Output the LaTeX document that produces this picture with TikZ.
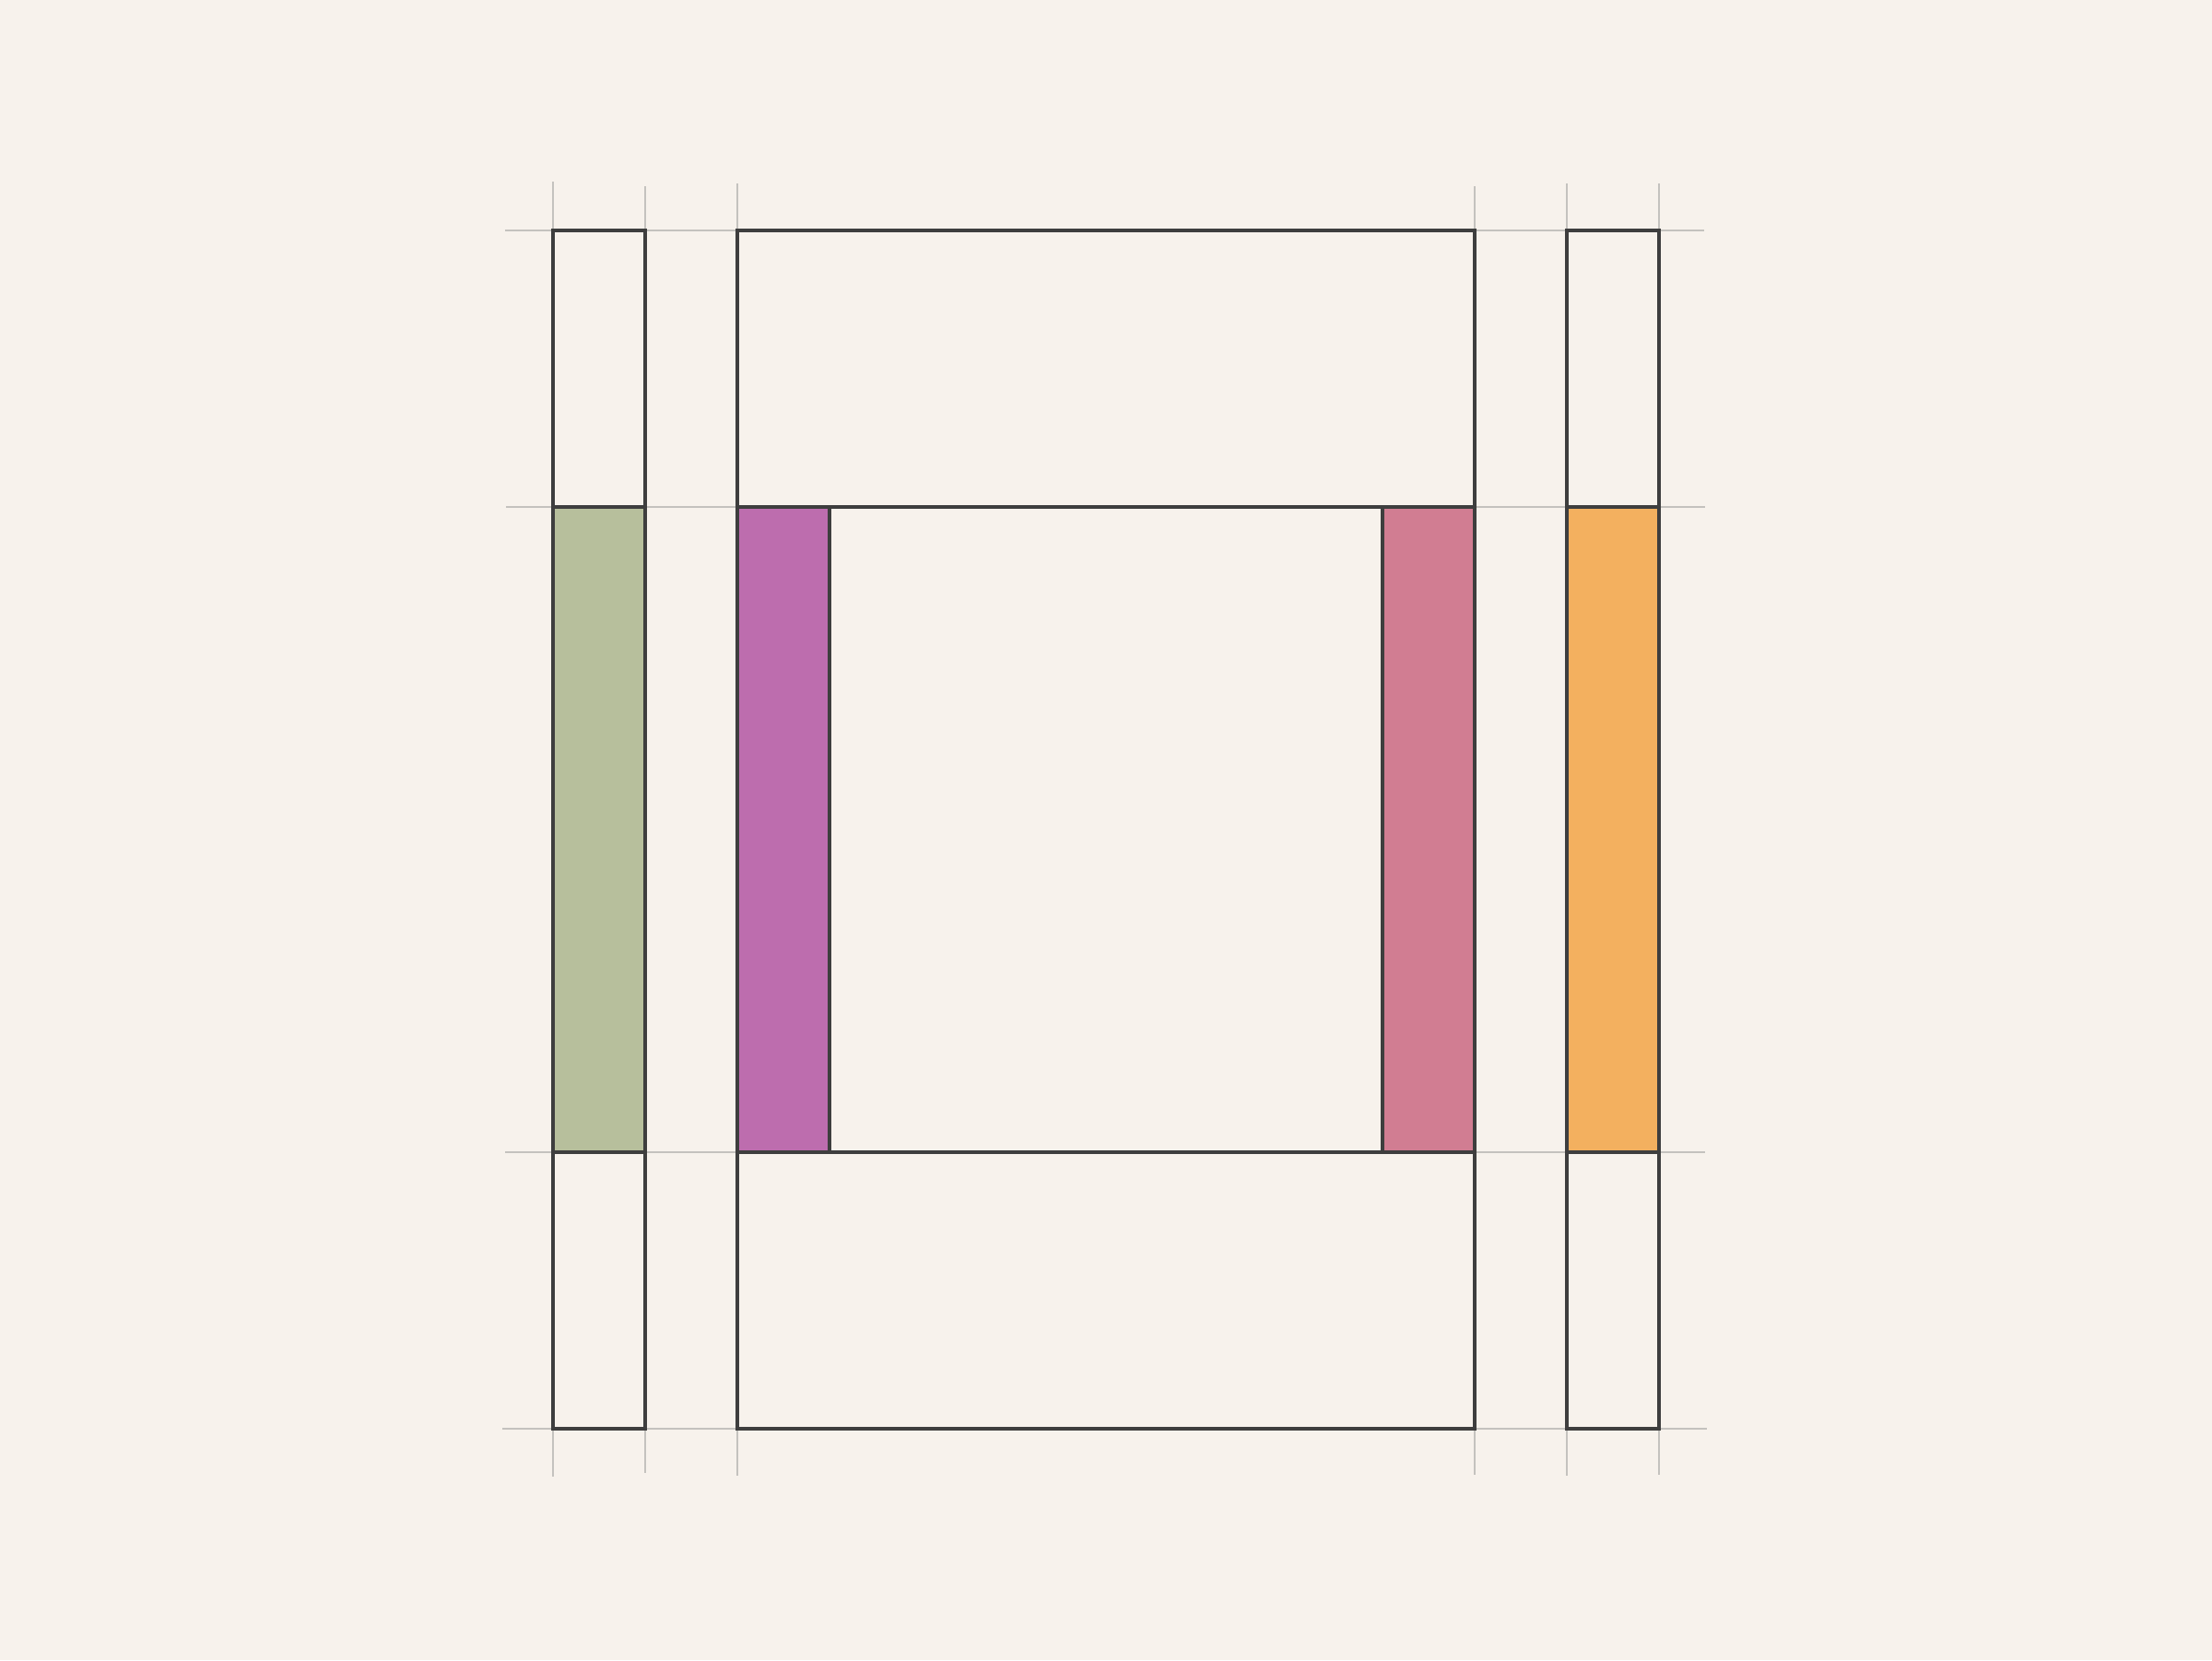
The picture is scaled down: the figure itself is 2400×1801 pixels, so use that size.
\documentclass[tikz,border=0pt]{standalone}
\definecolor{bg}{HTML}{F7F2EC}
\definecolor{ink}{HTML}{3E3E3E}
\definecolor{guide}{HTML}{C4C2BE}
\definecolor{sage}{HTML}{B7BF9C}
\definecolor{orchid}{HTML}{BD6DAE}
\definecolor{rose}{HTML}{D17D92}
\definecolor{amber}{HTML}{F3B05F}
\tikzset{
  guideline/.style={draw=guide,line width=1.6bp},
  outline/.style={draw=ink,line width=4.6bp,line join=miter},
}
\begin{document}
\begin{tikzpicture}[x=1bp,y=-1bp]
\fill[bg] (0,0) rectangle (2400,1801);
\useasboundingbox (0,0) rectangle (2400,1801);
% guides horizontal
\draw[guideline] (548,250) -- (1849,250);
\draw[guideline] (549,550) -- (1850,550);
\draw[guideline] (548,1250) -- (1850,1250);
\draw[guideline] (545,1550) -- (1852,1550);
% guides vertical
\draw[guideline] (600,197) -- (600,1602);
\draw[guideline] (700,202) -- (700,1598);
\draw[guideline] (800,199) -- (800,1601);
\draw[guideline] (1600,202) -- (1600,1600);
\draw[guideline] (1700,199) -- (1700,1601);
\draw[guideline] (1800,199) -- (1800,1600);
% fills
\fill[sage] (600,550) rectangle (700,1250);
\fill[orchid] (800,550) rectangle (900,1250);
\fill[rose] (1500,550) rectangle (1600,1250);
\fill[amber] (1700,550) rectangle (1800,1250);
% left column
\draw[outline] (600,250) rectangle (700,1550);
\draw[outline] (600,550) -- (700,550);
\draw[outline] (600,1250) -- (700,1250);
% right column
\draw[outline] (1700,250) rectangle (1800,1550);
\draw[outline] (1700,550) -- (1800,550);
\draw[outline] (1700,1250) -- (1800,1250);
% main
\draw[outline] (800,250) rectangle (1600,1550);
\draw[outline] (800,550) -- (1600,550);
\draw[outline] (800,1250) -- (1600,1250);
\draw[outline] (900,550) -- (900,1250);
\draw[outline] (1500,550) -- (1500,1250);
\end{tikzpicture}
\end{document}
